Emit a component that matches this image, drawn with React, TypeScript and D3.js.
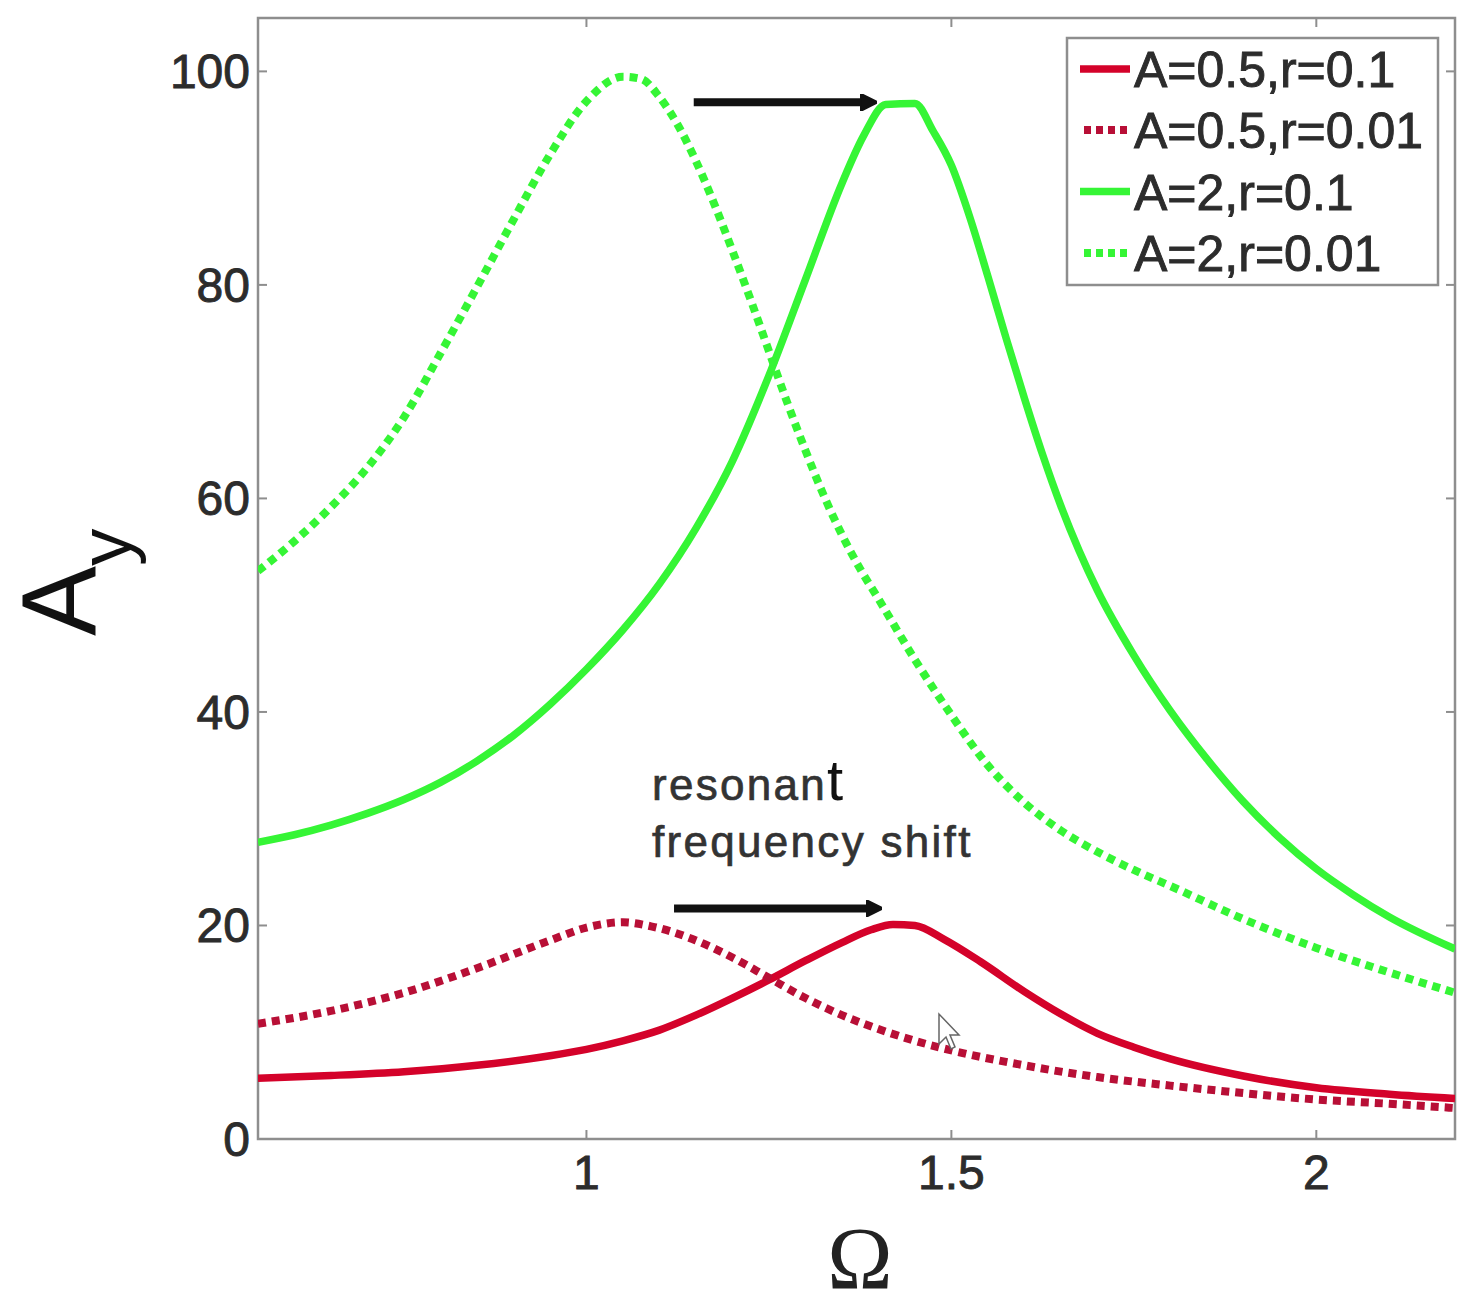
import React from "react";
import * as d3 from "d3";

// ---- data ----
const greenDotX = [0.55, 0.6, 0.65, 0.7, 0.75, 0.8, 0.85, 0.9, 0.95, 1.0, 1.05, 1.075, 1.1, 1.125, 1.15, 1.175, 1.2, 1.225, 1.25, 1.275, 1.3, 1.325, 1.35, 1.375, 1.4, 1.45, 1.5, 1.55, 1.6, 1.65, 1.7, 1.75, 1.8, 1.9, 2.0, 2.1, 2.19];
const greenDotY = [53.2, 56.0, 59.2, 62.9, 67.6, 73.6, 79.8, 86.1, 92.2, 97.2, 99.5, 99.3, 97.6, 95.0, 91.6, 87.6, 83.2, 78.6, 73.8, 69.0, 64.5, 60.3, 56.6, 53.4, 50.6, 44.9, 39.7, 35.0, 31.5, 28.9, 26.9, 25.2, 23.7, 20.6, 17.9, 15.6, 13.7];

const greenSolX = [0.55, 0.6, 0.65, 0.7, 0.75, 0.8, 0.85, 0.9, 0.95, 1.0, 1.05, 1.1, 1.15, 1.2, 1.25, 1.3, 1.35, 1.38, 1.41, 1.45, 1.475, 1.5, 1.525, 1.55, 1.575, 1.6, 1.625, 1.65, 1.675, 1.7, 1.75, 1.8, 1.85, 1.9, 1.95, 2.0, 2.05, 2.1, 2.19];
const greenSolY = [27.8, 28.5, 29.4, 30.5, 31.8, 33.4, 35.4, 37.8, 40.7, 44.0, 47.7, 52.0, 57.2, 63.5, 71.5, 80.5, 89.5, 94.0, 96.9, 97.0, 94.4, 91.2, 86.4, 80.8, 75.0, 69.4, 64.1, 59.3, 55.1, 51.4, 45.3, 40.1, 35.6, 31.6, 28.2, 25.3, 22.9, 20.8, 17.8];

const redSolX = [0.55, 0.65, 0.75, 0.85, 0.95, 1.0, 1.05, 1.1, 1.15, 1.2, 1.25, 1.3, 1.35, 1.39, 1.42, 1.45, 1.49, 1.54, 1.6, 1.65, 1.7, 1.75, 1.8, 1.9, 2.0, 2.1, 2.19];
const redSolY = [5.7, 5.95, 6.3, 6.9, 7.8, 8.4, 9.2, 10.2, 11.6, 13.2, 14.9, 16.7, 18.4, 19.6, 20.1, 20.0, 18.7, 16.6, 13.8, 11.7, 9.9, 8.6, 7.5, 5.9, 4.8, 4.2, 3.8];

const redDotX = [0.55, 0.65, 0.75, 0.85, 0.95, 1.0, 1.05, 1.09, 1.15, 1.2, 1.25, 1.3, 1.35, 1.4, 1.45, 1.5, 1.6, 1.7, 1.8, 1.9, 2.0, 2.1, 2.19];
const redDotY = [10.8, 12.0, 13.7, 16.0, 18.6, 19.8, 20.3, 19.9, 18.6, 17.0, 15.1, 13.2, 11.6, 10.3, 9.2, 8.3, 6.9, 5.8, 5.0, 4.3, 3.7, 3.3, 2.9];

const xTicks = [1, 1.5, 2];
const xTickLabels = ["1", "1.5", "2"];
const yTicks = [0, 20, 40, 60, 80, 100];
const yTickLabels = ["0", "20", "40", "60", "80", "100"];

const legendLabels = ["A=0.5,r=0.1", "A=0.5,r=0.01", "A=2,r=0.1", "A=2,r=0.01"];

const RED = "#d4022a";
const RED_DOT = "#b80f36";
const GREEN = "#35f535";

type Series = { xs: number[]; ys: number[]; color: string; dotted: boolean };

const series: Series[] = [
  { xs: redSolX, ys: redSolY, color: RED, dotted: false },
  { xs: redDotX, ys: redDotY, color: RED_DOT, dotted: true },
  { xs: greenSolX, ys: greenSolY, color: GREEN, dotted: false },
  { xs: greenDotX, ys: greenDotY, color: GREEN, dotted: true },
];

export default function App() {
  const W = 1459, H = 1306;
  const left = 258, right = 1455, top = 18, bottom = 1139;
  const x = d3.scaleLinear().domain([0.55, 2.19]).range([left, right]);
  const y = d3.scaleLinear().domain([0, 105]).range([bottom, top]);

  const mkLine = (xs: number[], ys: number[]) =>
    d3
      .line<number>()
      .x((_, i) => x(xs[i]))
      .y((_, i) => y(ys[i]))
      .curve(d3.curveMonotoneX)(ys) || "";

  const axisColor = "#8e8e8e";
  const textColor = "#2c2c2c";
  const font = "'Liberation Sans', Arial, Helvetica, sans-serif";

  const dash = "8,6";
  const sw = 7.5;

  // legend layout
  const lgX0 = 1067, lgY0 = 38, lgX1 = 1438, lgY1 = 285;
  const rowBase = [87, 148, 209.5, 271];

  // annotation arrows (data coordinates)
  const arrows = [
    { x0: 1.147, x1: 1.38, yv: 97.1 },
    { x0: 1.12, x1: 1.387, yv: 21.6 },
  ];

  return (
    <svg
      width={W}
      height={H}
      style={{ position: "absolute", left: 0, top: 0, background: "#fff" }}
      xmlns="http://www.w3.org/2000/svg"
    >
      <defs>
        <clipPath id="plotClip">
          <rect x={left} y={top} width={right - left} height={bottom - top} />
        </clipPath>
        <marker id="ah" viewBox="0 0 10 10" refX="2" refY="5" markerWidth="2.1" markerHeight="2.1" orient="auto" markerUnits="strokeWidth">
          <path d="M0,0 L10,5 L0,10 z" fill="#111" stroke="#111" strokeWidth={1.5} strokeLinejoin="round" />
        </marker>
      </defs>
      <rect x={0} y={0} width={W} height={H} fill="#fff" />

      {/* axes box */}
      <rect x={left} y={top} width={right - left} height={bottom - top} fill="none" stroke={axisColor} strokeWidth={2.5} />

      {/* ticks */}
      {xTicks.map((t) => (
        <g key={"xt" + t}>
          <line x1={x(t)} x2={x(t)} y1={bottom} y2={bottom - 9} stroke={axisColor} strokeWidth={2} />
          <line x1={x(t)} x2={x(t)} y1={top} y2={top + 9} stroke={axisColor} strokeWidth={2} />
        </g>
      ))}
      {yTicks.map((t) => (
        <g key={"yt" + t}>
          <line x1={left} x2={left + 9} y1={y(t)} y2={y(t)} stroke={axisColor} strokeWidth={2} />
          <line x1={right} x2={right - 9} y1={y(t)} y2={y(t)} stroke={axisColor} strokeWidth={2} />
        </g>
      ))}

      {/* tick labels */}
      {xTicks.map((t, i) => (
        <text key={"xl" + t} x={x(t)} y={1189} textAnchor="middle" fontFamily={font} fontSize={48} fill={textColor} stroke={textColor} strokeWidth={0.9}>
          {xTickLabels[i]}
        </text>
      ))}
      {yTicks.map((t, i) => (
        <text key={"yl" + t} x={250} y={y(t) + 17} textAnchor="end" fontFamily={font} fontSize={48} fill={textColor} stroke={textColor} strokeWidth={0.9}>
          {yTickLabels[i]}
        </text>
      ))}

      {/* curves */}
      <g clipPath="url(#plotClip)">
        {series.map((s, i) => (
          <path
            key={"s" + i}
            d={mkLine(s.xs, s.ys)}
            fill="none"
            stroke={s.color}
            strokeWidth={s.dotted ? 8 : sw}
            strokeDasharray={s.dotted ? dash : undefined}
            strokeLinejoin="round"
          />
        ))}
      </g>

      {/* arrows */}
      {arrows.map((a, i) => (
        <line
          key={"ar" + i}
          x1={x(a.x0)}
          x2={x(a.x1)}
          y1={y(a.yv)}
          y2={y(a.yv)}
          stroke="#111"
          strokeWidth={8}
          markerEnd="url(#ah)"
        />
      ))}

      {/* annotation text */}
      <text x={652} y={800} fontFamily={font} fontSize={44} fill="#333" stroke="#333" strokeWidth={0.7} letterSpacing={2.3}>
        resonan
        <tspan fontSize={58} fill="#111" stroke="none" letterSpacing={0}>t</tspan>
      </text>
      <text x={652} y={857} fontFamily={font} fontSize={44} fill="#333" stroke="#333" strokeWidth={0.7} letterSpacing={2.3}>
        frequency shift
      </text>

      {/* mouse cursor */}
      <path
        d="M939,1014 L939,1044 L946,1037 L951,1049 L955,1047 L950,1035 L959,1035 Z"
        fill="#fff"
        stroke="#666"
        strokeWidth={1.5}
      />

      {/* legend */}
      <rect x={lgX0} y={lgY0} width={lgX1 - lgX0} height={lgY1 - lgY0} fill="#fff" stroke={axisColor} strokeWidth={2.5} />
      {series.map((s, i) => (
        <g key={"lg" + i}>
          <line
            x1={s.dotted ? 1084 : 1080}
            x2={1130}
            y1={rowBase[i] - 18}
            y2={rowBase[i] - 18}
            stroke={s.color}
            strokeWidth={s.dotted ? 8 : sw}
            strokeDasharray={s.dotted ? "7,5" : undefined}
          />
          <text x={1134} y={rowBase[i]} fontFamily={font} fontSize={50} fill={textColor} stroke={textColor} strokeWidth={0.9}>
            {legendLabels[i]}
          </text>
        </g>
      ))}

      {/* axis labels */}
      <text x={860} y={1288} textAnchor="middle" fontFamily="'Liberation Serif', 'Times New Roman', serif" fontSize={88} fill="#222">
        Ω
      </text>
      <text transform="translate(95,636) rotate(-90)" fontFamily={font} fontSize={105} fill="#111">
        A
        <tspan fontSize={75} dy={36}>y</tspan>
      </text>
    </svg>
  );
}
